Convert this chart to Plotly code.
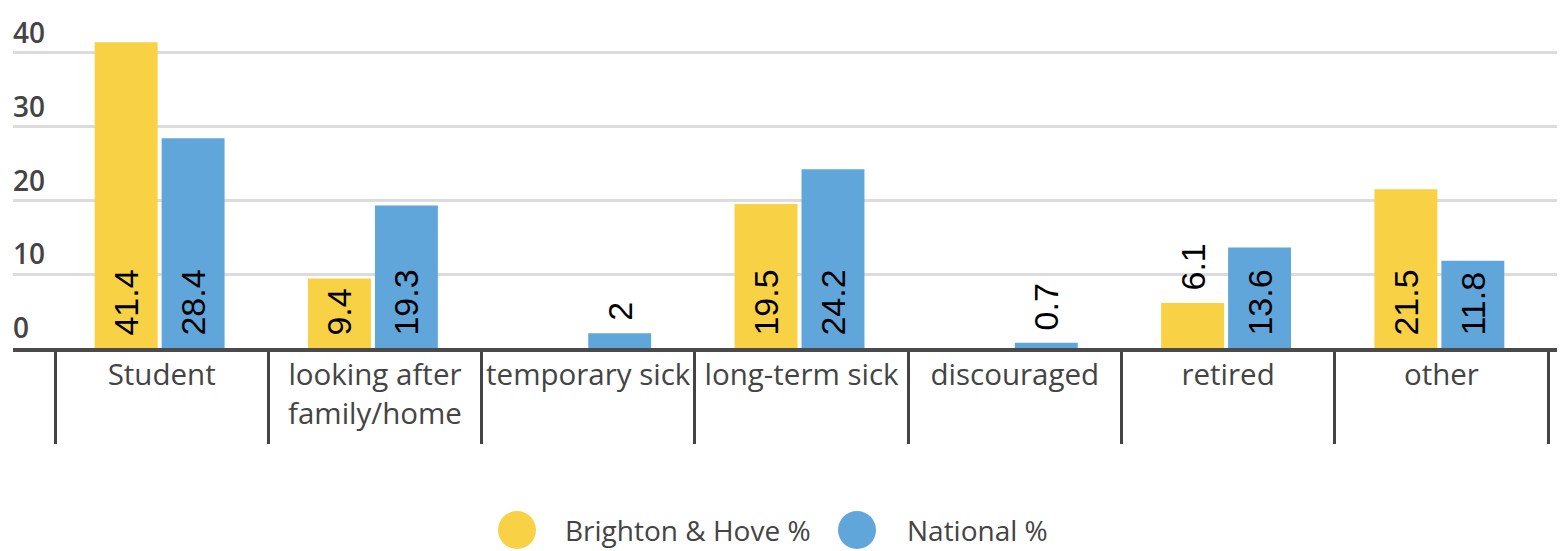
import plotly.graph_objects as go

categories = ["Student", "looking after<br>family/home", "temporary sick", "long-term sick",
              "discouraged", "retired", "other"]
brighton = [41.4, 9.4, None, 19.5, None, 6.1, 21.5]
national = [28.4, 19.3, 2, 24.2, 0.7, 13.6, 11.8]
series_names = ["Brighton & Hove %", "National %"]
y_ticks = [0, 10, 20, 30, 40]

YELLOW = "#F9D145"
BLUE = "#61A6DA"
TEXT = "#444444"
FONT = "Open Sans"
LBL = dict(family="Liberation Sans", size=34, color="black")

# page body has an 8px default margin, so the figure is offset by 8px
OFF = 8
PLOT_L, PLOT_R, PLOT_B = 13, 1557, 348
Y_MAX = 45.5
PX_PER_UNIT = 7.385
PLOT_T = PLOT_B - Y_MAX * PX_PER_UNIT
W, H = 1567 - OFF, 551 - OFF
PW, PH = PLOT_R - PLOT_L, PLOT_B - PLOT_T

BAR_W = 0.295
bar_styles = [(series_names[0], brighton, YELLOW, -0.314), (series_names[1], national, BLUE, 0.0)]

fig = go.Figure()
for name, vals, col, off in bar_styles:
    fig.add_trace(go.Bar(
        x=categories, y=vals, name=name, marker_color=col,
        marker_line_width=0, width=BAR_W, offset=off,
        text=[("" if v is None else " " + str(v)) for v in vals],
        textposition=[("outside" if (v is not None and v < 8) else "inside") for v in vals],
        insidetextanchor="start", textangle=-90,
        textfont=LBL, insidetextfont=LBL, outsidetextfont=LBL,
        constraintext="none",
        cliponaxis=False, showlegend=False,
    ))

fig.update_layout(
    width=W, height=H,
    margin=dict(l=PLOT_L - OFF, r=1567 - PLOT_R, t=PLOT_T - OFF, b=551 - PLOT_B, autoexpand=False),
    paper_bgcolor="white", plot_bgcolor="white",
    barmode="group",
    font=dict(family=FONT, color=TEXT),
)
fig.update_xaxes(
    type="category", automargin=False, tickangle=0,
    range=[-0.697, 6.542], tickson="boundaries", ticks="outside", ticklen=92,
    tickwidth=3, tickcolor="#444444", showline=True, linewidth=4, linecolor="#4a4a4a",
    showgrid=False, zeroline=False, tickfont=dict(size=29.5, color=TEXT, family=FONT),
    ticklabelstandoff=-2,
)
fig.update_yaxes(
    range=[0, Y_MAX], tickvals=y_ticks, ticklabelposition="inside top", automargin=False,
    showgrid=True, gridcolor="#dcdcdc", gridwidth=3, zeroline=False, showline=False,
    tickfont=dict(size=28, color=TEXT, family=FONT, weight=600), ticklabelstandoff=-3,
)

# manual legend (positions in screenshot pixels)
LEG_Y = 530
legend_items = [(517, 688, series_names[0], YELLOW), (857, 977, series_names[1], BLUE)]
for cx, tx, name, col in legend_items:
    fig.add_shape(type="circle", xref="paper", yref="paper", xsizemode="pixel", ysizemode="pixel",
                  xanchor=(cx - PLOT_L) / PW, yanchor=-(LEG_Y - PLOT_B) / PH,
                  x0=-19, x1=19, y0=-19, y1=19, fillcolor=col, line_width=0)
    fig.add_annotation(text=name, xref="paper", yref="paper", x=(tx - PLOT_L) / PW,
                       y=-(LEG_Y - PLOT_B) / PH, showarrow=False, xanchor="center", yanchor="middle",
                       font=dict(size=28, color=TEXT, family=FONT))

fig.write_html("out.html")
